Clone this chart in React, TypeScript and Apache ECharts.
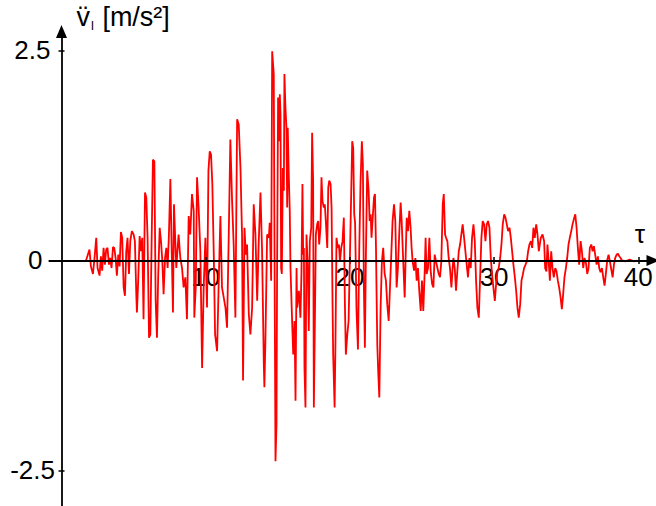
import React, { useEffect, useRef } from "react";
import * as echarts from "echarts";

// time axis τ (s)
const times = [
  1.70, 1.94, 2.04, 2.18, 2.29, 2.41, 2.50, 2.64, 2.73, 2.82, 2.92, 3.01, 3.10, 3.19, 3.29, 3.38, 3.47, 3.57, 3.66, 3.75,
  3.84, 3.94, 4.03, 4.12, 4.21, 4.31, 4.40, 4.49, 4.58, 4.68, 4.77, 4.88, 5.00, 5.09, 5.19, 5.23, 5.32, 5.42, 5.51, 5.60,
  5.69, 5.79, 5.88, 5.97, 6.07, 6.16, 6.25, 6.34, 6.44, 6.53, 6.62, 6.71, 6.81, 6.90, 6.99, 7.08, 7.18, 7.27, 7.36, 7.45,
  7.55, 7.64, 7.73, 7.80, 7.96, 8.12, 8.24, 8.36, 8.47, 8.59, 8.70, 8.82, 8.93, 9.05, 9.17, 9.21, 9.31, 9.40, 9.51, 9.63,
  9.75, 9.86, 9.98, 10.09, 10.19, 10.28, 10.37, 10.46, 10.56, 10.65, 10.79, 10.90, 11.02, 11.13, 11.25, 11.37, 11.48, 11.60, 11.71, 11.83,
  11.94, 12.06, 12.18, 12.29, 12.41, 12.52, 12.59, 12.69, 12.78, 12.87, 12.99, 13.10, 13.22, 13.33, 13.45, 13.57, 13.68, 13.80, 13.91, 14.03,
  14.07, 14.14, 14.26, 14.38, 14.44, 14.54, 14.61, 14.72, 14.79, 14.84, 14.91, 14.95, 15.02, 15.09, 15.14, 15.19, 15.23, 15.28, 15.35, 15.42,
  15.46, 15.53, 15.60, 15.65, 15.69, 15.76, 15.83, 15.88, 16.00, 16.07, 16.16, 16.23, 16.30, 16.34, 16.46, 16.57, 16.64, 16.71, 16.76, 16.81,
  16.85, 16.92, 16.99, 17.08, 17.15, 17.22, 17.32, 17.38, 17.45, 17.50, 17.57, 17.64, 17.73, 17.80, 17.87, 17.96, 18.03, 18.10, 18.19, 18.26,
  18.33, 18.43, 18.50, 18.57, 18.66, 18.73, 18.80, 18.84, 18.94, 19.00, 19.07, 19.17, 19.24, 19.31, 19.40, 19.49, 19.58, 19.65, 19.72, 19.82,
  19.91, 20.00, 20.09, 20.16, 20.23, 20.30, 20.36, 20.46, 20.56, 20.65, 20.74, 20.83, 20.90, 20.97, 21.04, 21.11, 21.20, 21.30, 21.37, 21.44,
  21.50, 21.57, 21.67, 21.74, 21.81, 21.85, 21.90, 21.97, 22.04, 22.13, 22.22, 22.31, 22.41, 22.50, 22.59, 22.69, 22.78, 22.87, 22.96, 23.06,
  23.15, 23.24, 23.33, 23.43, 23.52, 23.59, 23.68, 23.80, 23.87, 23.94, 24.03, 24.12, 24.21, 24.28, 24.35, 24.45, 24.54, 24.63, 24.72, 24.81,
  24.91, 25.00, 25.09, 25.19, 25.25, 25.32, 25.42, 25.51, 25.60, 25.70, 25.79, 25.88, 25.97, 26.07, 26.16, 26.25, 26.34, 26.44, 26.51, 26.60,
  26.67, 26.76, 26.85, 26.94, 27.04, 27.11, 27.18, 27.27, 27.36, 27.45, 27.55, 27.64, 27.73, 27.82, 27.92, 28.01, 28.10, 28.19, 28.29, 28.38,
  28.47, 28.57, 28.66, 28.75, 28.84, 28.94, 29.03, 29.12, 29.21, 29.31, 29.40, 29.49, 29.58, 29.68, 29.77, 29.86, 29.95, 30.05, 30.14, 30.23,
  30.32, 30.42, 30.51, 30.60, 30.70, 30.79, 30.88, 30.97, 31.07, 31.16, 31.25, 31.34, 31.44, 31.53, 31.62, 31.71, 31.81, 31.90, 31.99, 32.08,
  32.18, 32.27, 32.36, 32.45, 32.55, 32.64, 32.73, 32.82, 32.92, 33.01, 33.10, 33.24, 33.36, 33.47, 33.54, 33.63, 33.70, 33.77, 33.87, 33.96,
  34.05, 34.14, 34.24, 34.33, 34.42, 34.51, 34.61, 34.70, 34.79, 34.88, 34.98, 35.07, 35.16, 35.25, 35.35, 35.44, 35.53, 35.63, 35.72, 35.81,
  35.90, 36.00, 36.09, 36.18, 36.27, 36.37, 36.46, 36.55, 36.64, 36.74, 36.83, 36.92, 37.01, 37.11, 37.20, 37.29, 37.38, 37.48, 37.57, 37.66,
  37.75, 37.85, 37.94, 38.03, 38.13, 38.22, 38.31, 38.40, 38.50, 38.59, 38.68, 38.77, 38.87, 39.10, 39.40, 39.70, 39.90,
];

// acceleration v̈ (m/s²)
const accel = [
  0.00, 0.13, -0.07, -0.16, 0.03, 0.27, -0.09, -0.18, 0.05, -0.12, 0.15, -0.05, 0.13, 0.15, -0.05, 0.03, -0.09, 0.16, 0.15, 0.03,
  -0.18, 0.07, -0.07, 0.34, 0.27, -0.32, -0.42, 0.11, 0.27, -0.16, 0.23, 0.35, 0.31, 0.23, -0.42, -0.62, -0.24, 0.29, 0.11, 0.27,
  -0.70, 0.81, 0.75, 0.27, -0.92, -0.88, 0.23, 1.20, 1.18, -0.48, -0.92, -0.16, 0.39, 0.23, 0.00, -0.40, 0.03, 0.15, -0.09, 0.31,
  0.97, 0.15, -0.62, 0.67, -0.09, 0.31, 0.03, -0.09, -0.32, -0.20, -0.70, 0.53, 0.31, 0.79, 0.59, -0.68, -0.32, 0.99, 0.63, 0.11,
  -1.28, -0.32, 0.27, -0.56, 1.07, 1.30, 1.26, 0.91, 0.07, -0.88, -1.08, -0.28, 0.53, -0.32, -0.44, -0.56, -0.80, 0.31, 1.44, 0.71,
  0.19, -0.68, 1.68, 1.62, 1.11, 0.31, -1.43, 0.39, 0.07, 0.19, -0.64, -0.88, -0.56, 0.67, 0.31, -0.48, 0.23, 0.81, 0.11, -1.24,
  -1.51, -0.96, 0.31, 0.27, 0.45, -0.24, 2.49, 2.22, -0.56, -2.39, -1.95, -0.16, 1.94, 1.42, 1.98, 1.74, -0.09, -0.16, 1.10, 0.83,
  2.22, 1.82, 1.58, 0.63, 1.58, 1.03, 0.59, -0.09, -0.76, -1.12, -0.72, -1.67, -0.09, -0.56, -0.36, -0.68, -0.16, 0.91, 0.07, 0.15,
  -1.28, -1.75, 0.31, -0.09, -0.84, 0.23, 0.39, 1.52, 0.95, -1.75, -0.76, 0.31, 0.43, 0.47, 0.19, 0.39, 0.99, 0.71, 0.63, 0.67,
  0.47, 0.15, 0.87, 0.95, 0.91, 0.63, -0.56, -1.12, -1.75, -0.96, 0.27, 0.15, 0.19, -0.01, 0.15, 0.23, 0.51, -0.48, -1.12, -0.88,
  -0.72, 0.03, 0.79, 1.42, 1.34, 0.55, 0.45, -0.60, -1.06, 0.15, 0.95, 1.42, 1.15, -0.32, -1.04, 0.07, 1.07, 0.83, 0.47, 0.55,
  0.27, 0.47, 0.75, 0.79, 0.15, -0.40, -1.00, -1.35, -1.63, -0.56, -0.01, 0.15, -0.16, -0.24, -0.52, -0.72, -0.32, 0.07, 0.47, 0.67,
  0.47, -0.32, -0.09, 0.35, 0.69, 0.47, 0.07, -0.44, 0.07, 0.51, 0.35, 0.59, 0.39, 0.15, -0.01, -0.12, 0.03, -0.24, -0.09, -0.36,
  -0.60, -0.24, -0.60, -0.12, 0.27, -0.16, -0.09, 0.27, -0.12, -0.28, -0.32, 0.07, -0.01, -0.09, -0.16, -0.20, -0.01, 0.67, 0.79, 0.31,
  0.27, 0.23, 0.03, -0.09, -0.32, -0.13, 0.03, -0.09, -0.36, -0.13, 0.11, 0.19, 0.31, 0.43, 0.27, 0.11, -0.05, -0.20, 0.03, -0.09,
  0.27, 0.43, 0.23, -0.24, -0.56, -0.68, -0.20, 0.27, 0.47, 0.43, 0.23, 0.43, 0.47, 0.39, 0.03, -0.17, -0.32, -0.48, -0.28, -0.13,
  -0.09, 0.03, 0.19, 0.43, 0.55, 0.51, 0.43, 0.35, 0.39, 0.27, 0.11, -0.05, -0.20, -0.36, -0.56, -0.68, -0.52, -0.24, -0.17, -0.09,
  -0.05, -0.01, 0.11, 0.19, 0.23, 0.15, 0.39, 0.27, 0.43, 0.31, 0.11, 0.27, 0.31, 0.23, -0.09, -0.13, 0.19, 0.03, -0.24, 0.11,
  -0.09, -0.20, -0.09, -0.13, -0.24, -0.32, -0.44, -0.58, -0.40, -0.20, -0.09, 0.03, 0.19, 0.27, 0.35, 0.43, 0.49, 0.55, 0.39, 0.15,
  -0.05, 0.23, 0.11, -0.09, 0.03, -0.03, -0.16, -0.09, 0.15, 0.19, 0.11, 0.17, 0.07, -0.05, 0.05, -0.09, -0.14, -0.09, -0.20, -0.30,
  -0.16, 0.01, 0.07, -0.01, -0.11, -0.20, -0.05, 0.03, 0.07, 0.08, 0.05, 0.03, 0.00, -0.01, 0.01, -0.01, 0.00,
];

const xTickValues = [10, 20, 30, 40];
const yTickValues = [-2.5, 2.5];
const yLabelValues = [-2.5, 0, 2.5];

const X_MIN = -0.846;
const X_MAX = 41.02;
const Y_MIN = -3.0;
const Y_MAX = 2.726;

// grid geometry (px)
const GRID_LEFT = 49.3;
const GRID_TOP = 31.5;
const GRID_W = 603.7;
const GRID_H = 481;
// distances from grid edges to the zero lines (axes cross at the origin)
const X_AXIS_OFFSET = -(GRID_H * (0 - Y_MIN)) / (Y_MAX - Y_MIN);
const Y_AXIS_OFFSET = -(GRID_W * (0 - X_MIN)) / (X_MAX - X_MIN);

const FONT = "'Liberation Sans', Arial, sans-serif";

export default function App() {
  const ref = useRef<HTMLDivElement>(null);

  useEffect(() => {
    if (!ref.current) return;
    const chart = echarts.init(ref.current, null, { renderer: "svg" });
    const data = times.map((t, i) => [t, accel[i]]);

    const tickStyle = { color: "#000", width: 1.5 };

    chart.setOption({
      animation: false,
      backgroundColor: "#ffffff",
      grid: {
        left: GRID_LEFT,
        top: GRID_TOP,
        width: GRID_W,
        height: GRID_H,
        containLabel: false,
        outerBoundsMode: "none",
      },
      xAxis: [
        {
          // labels, lower ticks and name: drawn beneath the signal
          type: "value",
          min: X_MIN,
          max: X_MAX,
          position: "bottom",
          offset: X_AXIS_OFFSET,
          z: 1,
          splitLine: { show: false },
          name: "τ",
          nameLocation: "end",
          nameGap: -13,
          nameMoveOverlap: false,
          nameTextStyle: {
            fontFamily: FONT,
            fontSize: 26,
            color: "#000",
            align: "center",
            verticalAlign: "bottom",
            padding: [0, 0, 13, 0],
          },
          axisLine: { show: false, onZero: false },
          axisTick: { show: true, customValues: xTickValues, length: 3.5, inside: false, lineStyle: tickStyle },
          axisLabel: {
            show: true,
            customValues: xTickValues,
            margin: 4,
            hideOverlap: false,
            fontFamily: FONT,
            fontSize: 26,
            color: "#000",
          },
        },
        {
          // axis line with arrow and upper ticks: drawn over the signal
          type: "value",
          min: X_MIN,
          max: X_MAX,
          position: "bottom",
          offset: X_AXIS_OFFSET,
          z: 5,
          splitLine: { show: false },
          axisLine: {
            show: true,
            onZero: false,
            symbol: ["none", "triangle"],
            symbolSize: [11, 13],
            lineStyle: { color: "#000", width: 1.8 },
          },
          axisTick: { show: true, customValues: xTickValues, length: 3.5, inside: true, lineStyle: tickStyle },
          axisLabel: { show: false },
        },
      ],
      yAxis: [
        {
          type: "value",
          min: Y_MIN,
          max: Y_MAX,
          position: "left",
          offset: Y_AXIS_OFFSET,
          z: 5,
          splitLine: { show: false },
          name: "{v|v\u0308}{s|l}{u| [m/s²]}",
          nameLocation: "end",
          nameGap: 0,
          nameMoveOverlap: false,
          nameTextStyle: {
            align: "left",
            verticalAlign: "bottom",
            padding: [0, 0, 0, 15],
            rich: {
              v: { fontFamily: FONT, fontSize: 27, lineHeight: 30, color: "#000" },
              s: {
                fontFamily: FONT,
                fontSize: 13,
                lineHeight: 13,
                verticalAlign: "bottom",
                color: "#000",
                padding: [0, 1, 0, 1],
              },
              u: { fontFamily: FONT, fontSize: 27, lineHeight: 30, color: "#000" },
            },
          },
          axisLine: {
            show: true,
            onZero: false,
            symbol: ["none", "triangle"],
            symbolSize: [11, 13],
            lineStyle: { color: "#000", width: 1.8 },
          },
          axisTick: { show: true, customValues: yTickValues, length: 3, inside: false, lineStyle: tickStyle },
          axisLabel: {
            show: true,
            customValues: yLabelValues,
            margin: 6.5,
            hideOverlap: false,
            formatter: (v: number) => (v === 0 ? "{z|0}" : v > 0 ? `{p|${v}}` : `{m|${v}}`),
            rich: {
              z: { fontFamily: FONT, fontSize: 26, color: "#000", padding: [0, 12.5, 0, 0] },
              p: { fontFamily: FONT, fontSize: 26, color: "#000", padding: [0, 4.5, 0, 0] },
              m: { fontFamily: FONT, fontSize: 26, color: "#000", padding: [0, 0, 0, 0] },
            },
          },
        },
        {
          type: "value",
          min: Y_MIN,
          max: Y_MAX,
          position: "left",
          offset: Y_AXIS_OFFSET,
          z: 5,
          splitLine: { show: false },
          axisLine: { show: false, onZero: false },
          axisTick: { show: true, customValues: yTickValues, length: 3, inside: true, lineStyle: tickStyle },
          axisLabel: { show: false },
        },
      ],
      series: [
        {
          type: "line",
          xAxisIndex: 0,
          yAxisIndex: 0,
          data,
          showSymbol: false,
          symbol: "none",
          clip: false,
          lineStyle: { color: "#ff0000", width: 1.8 },
          z: 2,
        },
      ],
    });

    return () => chart.dispose();
  }, []);

  return (
    <div
      ref={ref}
      style={{ position: "fixed", left: 0, top: 0, width: 656, height: 506, background: "#fff" }}
    />
  );
}
